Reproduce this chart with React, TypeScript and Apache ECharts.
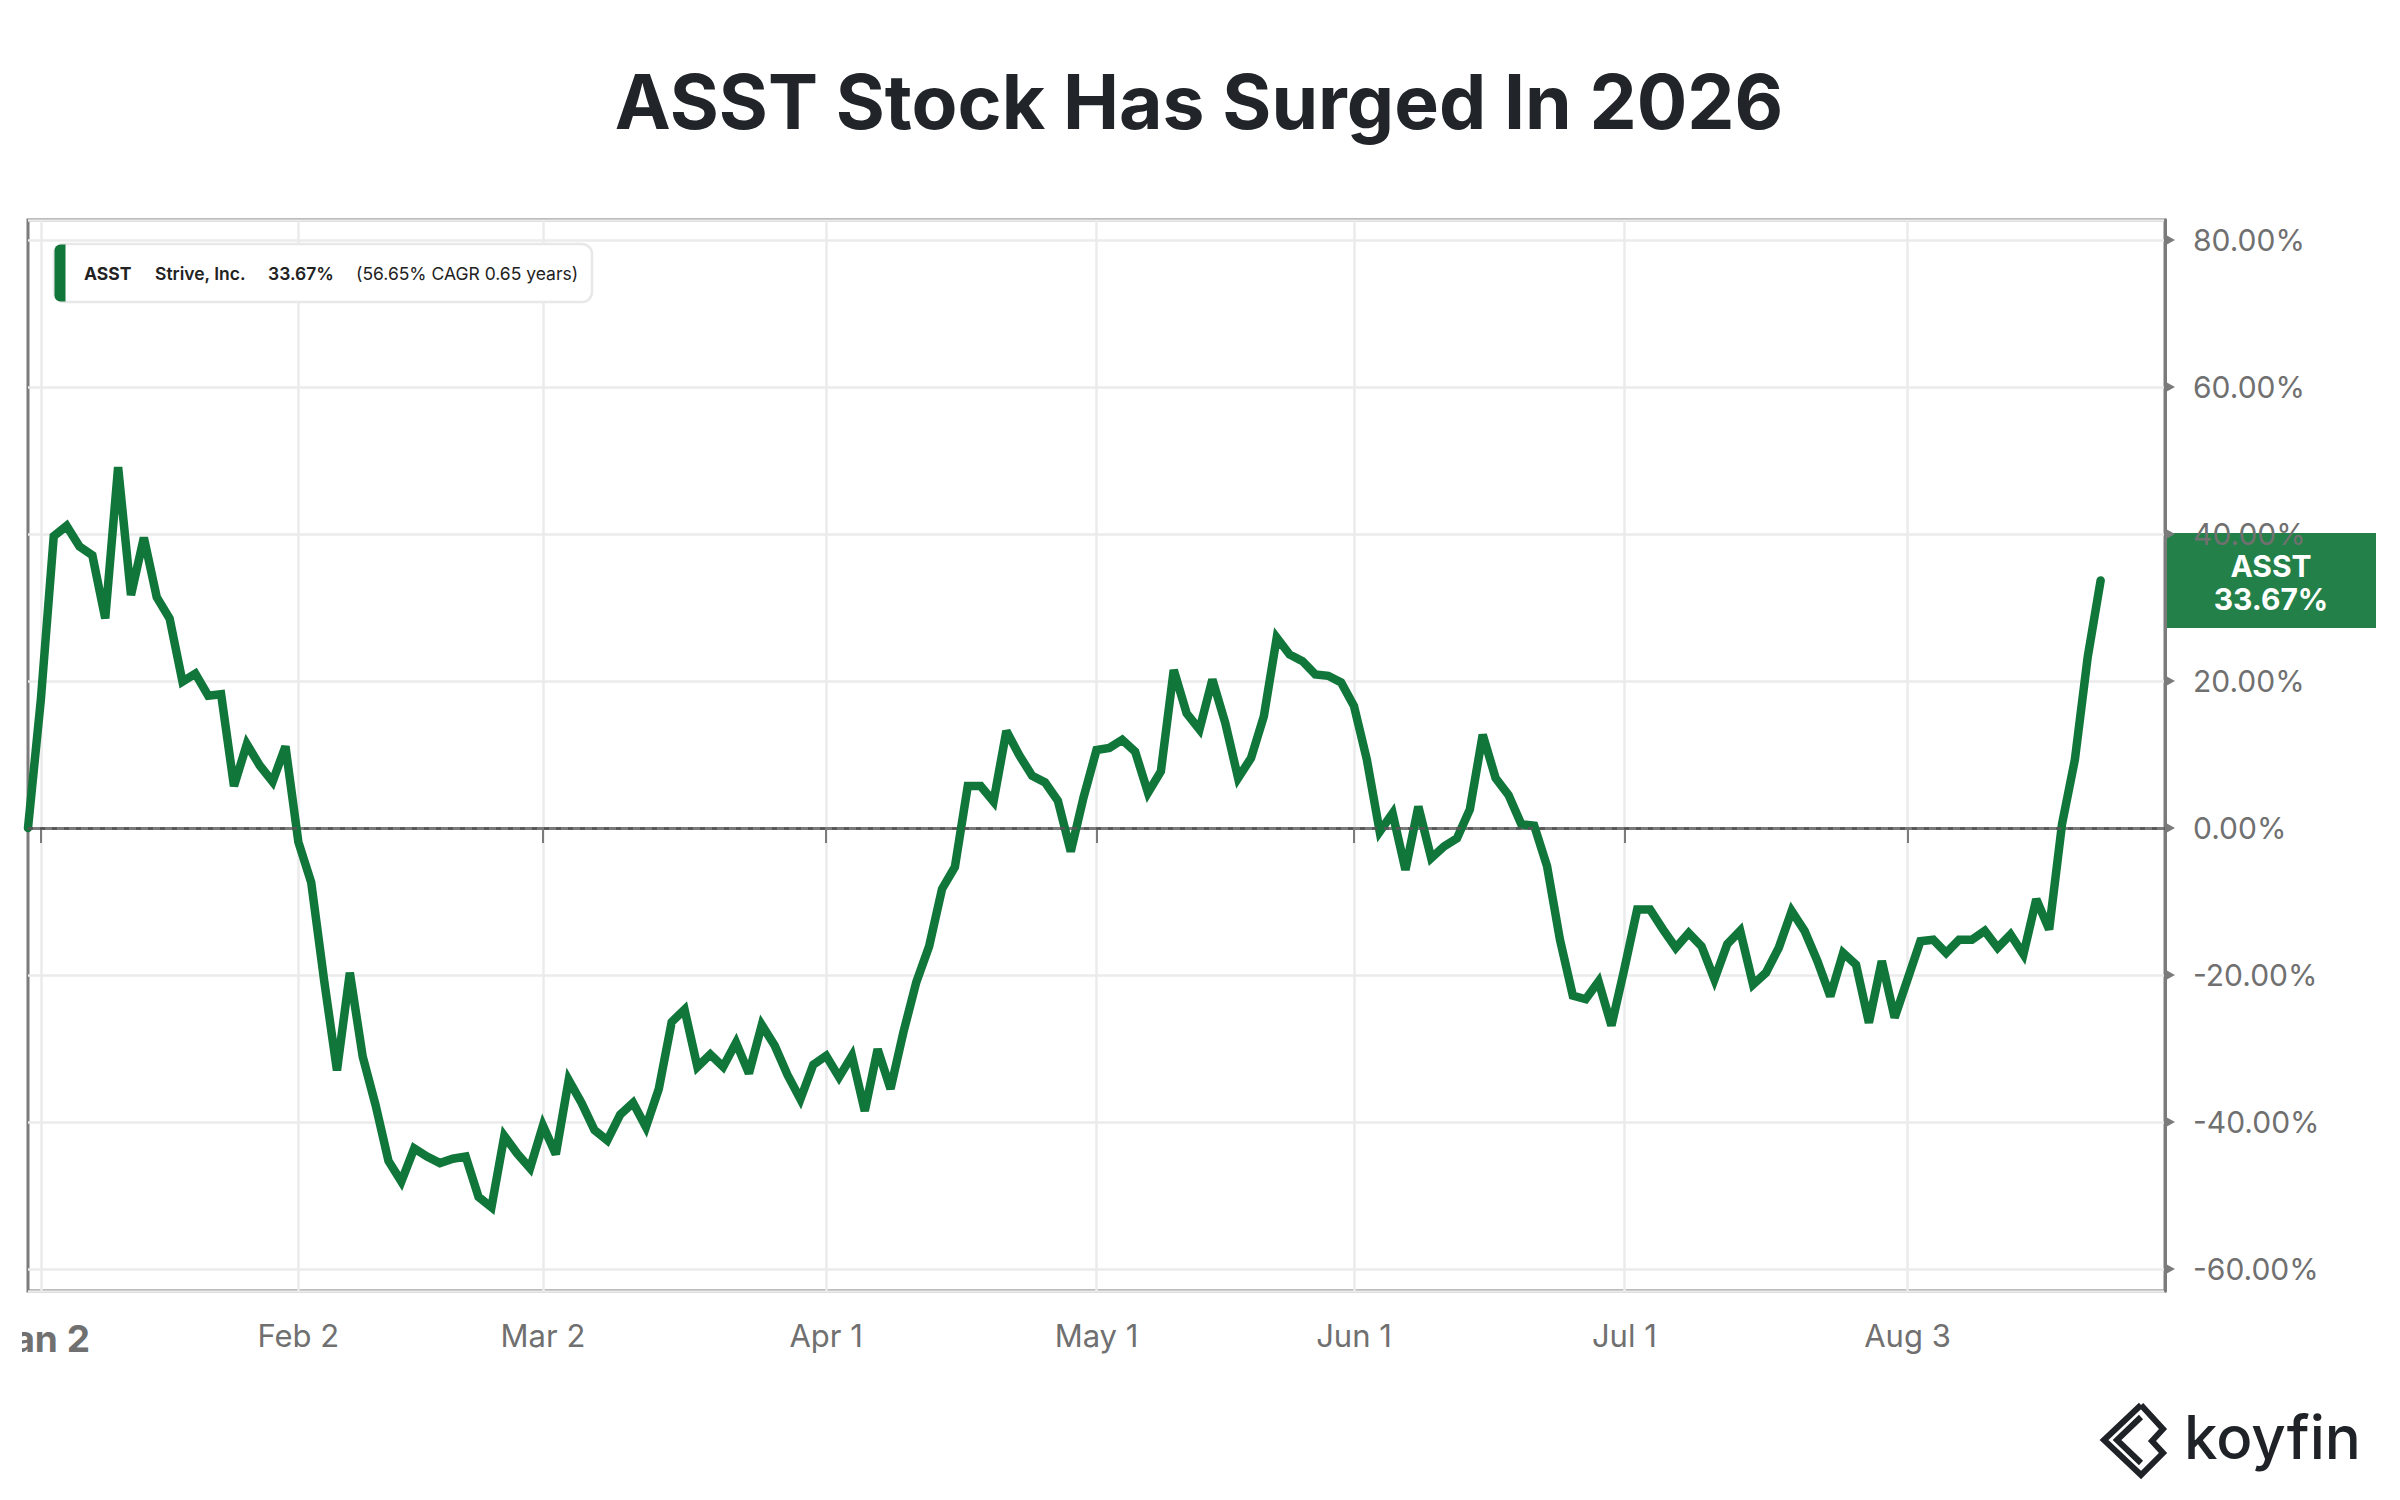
import { useEffect, useRef } from "react";
import * as echarts from "echarts";

const GREEN = "#10763a";
const TAG_GREEN = "#238049";
const AXIS = "#7b7b7b";
const LABEL = "#707070";
const GRID = "#ebebeb";
const FONT = 'Inter, "Noto Sans", "DejaVu Sans", sans-serif';

// trading calendar (NYSE closures) used for the category axis
const START_DATE = "2025-12-31";
const HOLIDAYS = ["2026-01-01", "2026-01-19", "2026-02-16", "2026-04-03", "2026-05-25", "2026-06-19", "2026-07-03"];
const CATEGORY_COUNT = 167; // data + empty room to the right edge
const MONTHS = ["Jan", "Feb", "Mar", "Apr", "May", "Jun", "Jul", "Aug", "Sep", "Oct", "Nov", "Dec"];

const TICK_LABELS = ["Jan 2", "Feb 2", "Mar 2", "Apr 1", "May 1", "Jun 1", "Jul 1", "Aug 3"];
const Y_TICKS = [80, 60, 40, 20, 0, -20, -40, -60];
const Y_MIN = -63;
const Y_MAX = 82.72;

// ASST total return since Dec 31 (%), one value per trading day
const RETURNS = [
  0, 17.5, 39.7, 41.1, 38.3, 37.1, 28.5, 49.1, 31.7, 39.5, 31.4,
  28.5, 19.9, 21.0, 18.0, 18.2, 5.7, 11.4, 8.5, 6.3, 11.1,
  -1.9, -7.4, -20.7, -33.0, -19.7, -31.1, -37.7, -45.3, -48.1, -43.6,
  -44.7, -45.6, -45.0, -44.7, -50.2, -51.6, -41.9, -44.3, -46.3, -40.5,
  -44.4, -34.3, -37.4, -41.1, -42.5, -39.0, -37.4, -40.7, -35.5, -26.4,
  -24.7, -32.5, -30.8, -32.5, -29.2, -33.4, -26.8, -29.6, -33.6, -36.9,
  -32.2, -31.0, -33.9, -31.0, -38.5, -30.1, -35.5, -27.8, -21.0, -16.1,
  -8.3, -5.3, 5.7, 5.7, 3.6, 13.2, 9.9, 7.1, 6.2, 3.7,
  -3.2, 4.2, 10.6, 10.9, 12.0, 10.4, 4.8, 7.7, 21.5, 15.6,
  13.4, 20.2, 14.3, 6.8, 9.5, 15.2, 25.9, 23.6, 22.7, 20.9,
  20.7, 19.8, 16.6, 9.3, -0.5, 2.0, -5.7, 2.9, -4.1, -2.5,
  -1.4, 2.5, 12.7, 6.8, 4.5, 0.5, 0.3, -5.2, -15.2, -22.8,
  -23.3, -20.9, -26.9, -19.2, -11.1, -11.1, -13.8, -16.3, -14.3, -16.1,
  -20.6, -15.8, -14.0, -21.3, -19.7, -16.3, -11.3, -14.0, -18.1, -22.9,
  -17.0, -18.6, -26.5, -18.1, -25.8, -20.6, -15.4, -15.2, -17.0, -15.2,
  -15.2, -14.0, -16.3, -14.5, -17.2, -9.7, -13.8, 0.5, 9.3, 23.3,
  33.67,
];

const LEGEND_TEXTS = ["ASST", "Strive, Inc.", "33.67%", "(56.65% CAGR 0.65 years)"];

function tradingDays(start: string, count: number): string[] {
  const out: string[] = [];
  const d = new Date(start + "T00:00:00Z");
  while (out.length < count) {
    const iso = d.toISOString().slice(0, 10);
    const wd = d.getUTCDay();
    if (wd !== 0 && wd !== 6 && !HOLIDAYS.includes(iso)) out.push(iso);
    d.setUTCDate(d.getUTCDate() + 1);
  }
  return out;
}

function shortDate(iso: string): string {
  const [, m, d] = iso.split("-");
  return `${MONTHS[Number(m) - 1]} ${Number(d)}`;
}

const DATES = tradingDays(START_DATE, CATEGORY_COUNT);

export default function App() {
  const elRef = useRef<HTMLDivElement>(null);

  useEffect(() => {
    const el = elRef.current;
    if (!el) return;
    const chart = echarts.init(el, undefined, { renderer: "svg" });

    const tickIdx = new Set(TICK_LABELS.map((t) => DATES.findIndex((d) => shortDate(d) === t)));
    const firstTick = Math.min(...tickIdx);
    const isTick = (i: number) => tickIdx.has(i);

    chart.setOption({
      animation: false,
      textStyle: { fontFamily: FONT },
      grid: {
        left: 6,
        right: 235,
        top: 220,
        bottom: 209,
        containLabel: false,
        outerBoundsMode: "none",
        show: true,
        borderColor: AXIS,
        borderWidth: 3,
        backgroundColor: "transparent",
      },
      xAxis: {
        type: "category",
        data: DATES,
        boundaryGap: false,
        axisLine: { show: true, lineStyle: { color: AXIS, width: 3 } },
        axisTick: { show: true, interval: isTick, length: 15, lineStyle: { color: AXIS, width: 2 } },
        axisLabel: {
          interval: isTick,
          hideOverlap: false,
          color: LABEL,
          fontSize: 31,
          fontFamily: FONT,
          margin: 29,
          // the first label runs past the left edge, as in the source chart
          formatter: (v: string, i: number) => (i === firstTick ? `{first|${shortDate(v)}}` : shortDate(v)),
          rich: {
            first: { fontSize: 37, fontWeight: "bold", color: LABEL, fontFamily: FONT },
          },
        },
        splitLine: { show: true, interval: isTick, lineStyle: { color: GRID, width: 2.5 } },
      },
      yAxis: {
        type: "value",
        position: "right",
        min: Y_MIN,
        max: Y_MAX,
        splitNumber: 7,
        axisLine: { show: true, lineStyle: { color: AXIS, width: 3 } },
        axisTick: { show: false },
        axisLabel: {
          color: LABEL,
          fontSize: 30,
          fontFamily: FONT,
          margin: 28,
          showMinLabel: false,
          showMaxLabel: false,
          formatter: (v: number) => (Y_TICKS.includes(Math.round(v * 100) / 100) ? `${v.toFixed(2)}%` : ""),
        },
        splitLine: { show: true, lineStyle: { color: GRID, width: 2.5 } },
      },
      series: [
        {
          name: "ASST",
          type: "line",
          data: RETURNS,
          showSymbol: false,
          z: 3,
          lineStyle: { color: GREEN, width: 8.5, cap: "round", join: "miter", miterLimit: 3 },
          markLine: {
            silent: true,
            symbol: "none",
            label: { show: false },
            lineStyle: { color: "#555", width: 2.5, type: [5, 7] },
            data: [{ yAxis: 0 }],
          },
        },
      ],
    });

    // right-hand value tag and tick arrows, placed through the axis scales
    const last = RETURNS.length - 1;
    const [, tagY] = chart.convertToPixel({ gridIndex: 0 }, [last, RETURNS[last]]) as number[];
    const [axisX] = chart.convertToPixel({ gridIndex: 0 }, [CATEGORY_COUNT - 1, 0]) as number[];
    const arrows = Y_TICKS.map((v) => {
      const [, py] = chart.convertToPixel({ gridIndex: 0 }, [CATEGORY_COUNT - 1, v]) as number[];
      return {
        type: "polygon",
        shape: { points: [[axisX, py - 5.5], [axisX + 10, py], [axisX, py + 5.5]] },
        style: { fill: AXIS },
        z: 10,
      };
    });

    const legendY = 273;
    chart.setOption({
      graphic: [
        {
          type: "text",
          x: 1177,
          y: 101,
          style: {
            text: "ASST Stock Has Surged In 2026",
            fontSize: 75,
            fontWeight: "bold",
            fontFamily: FONT,
            fill: "#212529",
            align: "center",
            verticalAlign: "middle",
          },
        },
        {
          type: "rect",
          shape: { x: 32, y: 244, width: 538, height: 58, r: 10 },
          style: { fill: "#fff", stroke: "#e8e8e8", lineWidth: 2.5 },
          z: 20,
        },
        {
          type: "rect",
          shape: { x: 32.5, y: 244.5, width: 11, height: 57, r: [6, 0, 0, 6] },
          style: { fill: GREEN },
          z: 21,
        },
        ...[
          { x: 62, w: "bold" },
          { x: 133, w: 600 },
          { x: 246, w: 600 },
          { x: 334, w: 400 },
        ].map((t, i) => ({
          type: "text",
          x: t.x,
          y: legendY,
          z: 21,
          style: {
            text: LEGEND_TEXTS[i],
            fontSize: 17.5,
            fontWeight: t.w,
            fontFamily: FONT,
            fill: "#222",
            verticalAlign: "middle",
          },
        })),
        ...arrows,
        {
          type: "group",
          x: axisX + 1,
          y: tagY,
          z: 30,
          children: [
            { type: "rect", shape: { x: 0, y: -47.5, width: 210, height: 95 }, style: { fill: TAG_GREEN } },
            {
              type: "text",
              x: 105,
              y: -15,
              style: { text: "ASST", fontSize: 30, fontWeight: "bold", fontFamily: FONT, fill: "#fff", align: "center", verticalAlign: "middle" },
            },
            {
              type: "text",
              x: 105,
              y: 18,
              style: { text: "33.67%", fontSize: 30, fontWeight: "bold", fontFamily: FONT, fill: "#fff", align: "center", verticalAlign: "middle" },
            },
          ],
        },
        {
          type: "polyline",
          shape: { points: [[2119, 1405], [2082, 1440], [2119, 1475], [2141, 1453], [2130, 1441], [2141, 1429], [2119, 1405]] },
          style: { stroke: "#1f2328", lineWidth: 6, fill: "none" },
        },
        {
          type: "polyline",
          shape: { points: [[2119, 1417], [2095, 1440], [2119, 1463]] },
          style: { stroke: "#1f2328", lineWidth: 6, fill: "none" },
        },
        {
          type: "text",
          x: 2162,
          y: 1437,
          style: { text: "koyfin", fontSize: 60, fontWeight: 500, fontFamily: FONT, fill: "#1f2328", verticalAlign: "middle" },
        },
      ],
    });

    return () => chart.dispose();
  }, []);

  return (
    <div style={{ position: "absolute", left: 0, top: 0, width: 2400, height: 1500, background: "#fff", overflow: "hidden" }}>
      <div ref={elRef} style={{ position: "absolute", left: 22, top: 0, width: 2378, height: 1500 }} />
    </div>
  );
}
